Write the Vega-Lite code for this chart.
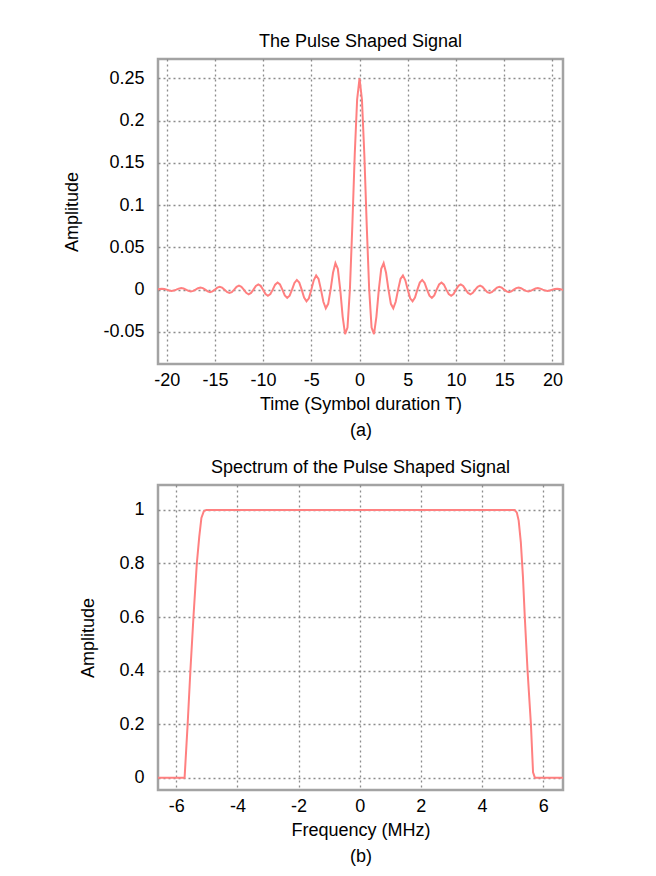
{
  "$schema": "https://vega.github.io/schema/vega-lite/v6.json",
  "background": "white",
  "padding": {"left": 62, "top": 31, "right": 5, "bottom": 5},
  "spacing": 16,
  "datasets": {
    "pulse": [
      {"t": -21, "amplitude": 0}, {"t": -20.75, "amplitude": 0.0008}, {"t": -20.5, "amplitude": 0.0012}, {"t": -20.25, "amplitude": 0.0009},
      {"t": -20, "amplitude": 0}, {"t": -19.75, "amplitude": -0.001}, {"t": -19.5, "amplitude": -0.0015}, {"t": -19.25, "amplitude": -0.0011},
      {"t": -19, "amplitude": 0}, {"t": -18.75, "amplitude": 0.0012}, {"t": -18.5, "amplitude": 0.0018}, {"t": -18.25, "amplitude": 0.0013},
      {"t": -18, "amplitude": 0}, {"t": -17.75, "amplitude": -0.0015}, {"t": -17.5, "amplitude": -0.0021}, {"t": -17.25, "amplitude": -0.0015},
      {"t": -17, "amplitude": 0}, {"t": -16.75, "amplitude": 0.0017}, {"t": -16.5, "amplitude": 0.0025}, {"t": -16.25, "amplitude": 0.0018},
      {"t": -16, "amplitude": 0}, {"t": -15.75, "amplitude": -0.002}, {"t": -15.5, "amplitude": -0.0029}, {"t": -15.25, "amplitude": -0.0021},
      {"t": -15, "amplitude": 0}, {"t": -14.75, "amplitude": 0.0024}, {"t": -14.5, "amplitude": 0.0034}, {"t": -14.25, "amplitude": 0.0024},
      {"t": -14, "amplitude": 0}, {"t": -13.75, "amplitude": -0.0028}, {"t": -13.5, "amplitude": -0.004}, {"t": -13.25, "amplitude": -0.0029},
      {"t": -13, "amplitude": 0}, {"t": -12.75, "amplitude": 0.0033}, {"t": -12.5, "amplitude": 0.0047}, {"t": -12.25, "amplitude": 0.0034},
      {"t": -12, "amplitude": 0}, {"t": -11.75, "amplitude": -0.0038}, {"t": -11.5, "amplitude": -0.0055}, {"t": -11.25, "amplitude": -0.0039},
      {"t": -11, "amplitude": 0}, {"t": -10.75, "amplitude": 0.0044}, {"t": -10.5, "amplitude": 0.0063}, {"t": -10.25, "amplitude": 0.0045},
      {"t": -10, "amplitude": 0}, {"t": -9.75, "amplitude": -0.0051}, {"t": -9.5, "amplitude": -0.0073}, {"t": -9.25, "amplitude": -0.0052},
      {"t": -9, "amplitude": 0}, {"t": -8.75, "amplitude": 0.0059}, {"t": -8.5, "amplitude": 0.0085}, {"t": -8.25, "amplitude": 0.0061},
      {"t": -8, "amplitude": 0}, {"t": -7.75, "amplitude": -0.0068}, {"t": -7.5, "amplitude": -0.0098}, {"t": -7.25, "amplitude": -0.0071},
      {"t": -7, "amplitude": 0}, {"t": -6.75, "amplitude": 0.0079}, {"t": -6.5, "amplitude": 0.0115}, {"t": -6.25, "amplitude": 0.0084},
      {"t": -6, "amplitude": 0}, {"t": -5.75, "amplitude": -0.0094}, {"t": -5.5, "amplitude": -0.0138}, {"t": -5.25, "amplitude": -0.0102},
      {"t": -5, "amplitude": 0}, {"t": -4.75, "amplitude": 0.0111}, {"t": -4.5, "amplitude": 0.0167}, {"t": -4.25, "amplitude": 0.0126},
      {"t": -4, "amplitude": 0}, {"t": -3.75, "amplitude": -0.0144}, {"t": -3.5, "amplitude": -0.022}, {"t": -3.25, "amplitude": -0.0168},
      {"t": -3, "amplitude": 0}, {"t": -2.75, "amplitude": 0.02}, {"t": -2.5, "amplitude": 0.0313}, {"t": -2.25, "amplitude": 0.0247},
      {"t": -2, "amplitude": 0}, {"t": -1.75, "amplitude": -0.0319}, {"t": -1.5, "amplitude": -0.0527}, {"t": -1.25, "amplitude": -0.0448},
      {"t": -1, "amplitude": 0}, {"t": -0.75, "amplitude": 0.0749}, {"t": -0.5, "amplitude": 0.159}, {"t": -0.25, "amplitude": 0.225},
      {"t": 0, "amplitude": 0.25},
      {"t": 0.25, "amplitude": 0.225}, {"t": 0.5, "amplitude": 0.159}, {"t": 0.75, "amplitude": 0.0749}, {"t": 1, "amplitude": 0},
      {"t": 1.25, "amplitude": -0.0448}, {"t": 1.5, "amplitude": -0.0527}, {"t": 1.75, "amplitude": -0.0319}, {"t": 2, "amplitude": 0},
      {"t": 2.25, "amplitude": 0.0247}, {"t": 2.5, "amplitude": 0.0313}, {"t": 2.75, "amplitude": 0.02}, {"t": 3, "amplitude": 0},
      {"t": 3.25, "amplitude": -0.0168}, {"t": 3.5, "amplitude": -0.022}, {"t": 3.75, "amplitude": -0.0144}, {"t": 4, "amplitude": 0},
      {"t": 4.25, "amplitude": 0.0126}, {"t": 4.5, "amplitude": 0.0167}, {"t": 4.75, "amplitude": 0.0111}, {"t": 5, "amplitude": 0},
      {"t": 5.25, "amplitude": -0.0102}, {"t": 5.5, "amplitude": -0.0138}, {"t": 5.75, "amplitude": -0.0094}, {"t": 6, "amplitude": 0},
      {"t": 6.25, "amplitude": 0.0084}, {"t": 6.5, "amplitude": 0.0115}, {"t": 6.75, "amplitude": 0.0079}, {"t": 7, "amplitude": 0},
      {"t": 7.25, "amplitude": -0.0071}, {"t": 7.5, "amplitude": -0.0098}, {"t": 7.75, "amplitude": -0.0068}, {"t": 8, "amplitude": 0},
      {"t": 8.25, "amplitude": 0.0061}, {"t": 8.5, "amplitude": 0.0085}, {"t": 8.75, "amplitude": 0.0059}, {"t": 9, "amplitude": 0},
      {"t": 9.25, "amplitude": -0.0052}, {"t": 9.5, "amplitude": -0.0073}, {"t": 9.75, "amplitude": -0.0051}, {"t": 10, "amplitude": 0},
      {"t": 10.25, "amplitude": 0.0045}, {"t": 10.5, "amplitude": 0.0063}, {"t": 10.75, "amplitude": 0.0044}, {"t": 11, "amplitude": 0},
      {"t": 11.25, "amplitude": -0.0039}, {"t": 11.5, "amplitude": -0.0055}, {"t": 11.75, "amplitude": -0.0038}, {"t": 12, "amplitude": 0},
      {"t": 12.25, "amplitude": 0.0034}, {"t": 12.5, "amplitude": 0.0047}, {"t": 12.75, "amplitude": 0.0033}, {"t": 13, "amplitude": 0},
      {"t": 13.25, "amplitude": -0.0029}, {"t": 13.5, "amplitude": -0.004}, {"t": 13.75, "amplitude": -0.0028}, {"t": 14, "amplitude": 0},
      {"t": 14.25, "amplitude": 0.0024}, {"t": 14.5, "amplitude": 0.0034}, {"t": 14.75, "amplitude": 0.0024}, {"t": 15, "amplitude": 0},
      {"t": 15.25, "amplitude": -0.0021}, {"t": 15.5, "amplitude": -0.0029}, {"t": 15.75, "amplitude": -0.002}, {"t": 16, "amplitude": 0},
      {"t": 16.25, "amplitude": 0.0018}, {"t": 16.5, "amplitude": 0.0025}, {"t": 16.75, "amplitude": 0.0017}, {"t": 17, "amplitude": 0},
      {"t": 17.25, "amplitude": -0.0015}, {"t": 17.5, "amplitude": -0.0021}, {"t": 17.75, "amplitude": -0.0015}, {"t": 18, "amplitude": 0},
      {"t": 18.25, "amplitude": 0.0013}, {"t": 18.5, "amplitude": 0.0018}, {"t": 18.75, "amplitude": 0.0012}, {"t": 19, "amplitude": 0},
      {"t": 19.25, "amplitude": -0.0011}, {"t": 19.5, "amplitude": -0.0015}, {"t": 19.75, "amplitude": -0.001}, {"t": 20, "amplitude": 0},
      {"t": 20.25, "amplitude": 0.0009}, {"t": 20.5, "amplitude": 0.0012}, {"t": 20.75, "amplitude": 0.0008}, {"t": 21, "amplitude": 0},
      {"t": 21.25, "amplitude": -0.0006}
    ],
    "spectrum": [
      {"f": -6.7, "amplitude": 0}, {"f": -5.73, "amplitude": 0}, {"f": -5.68, "amplitude": 0.1}, {"f": -5.63, "amplitude": 0.2},
      {"f": -5.54, "amplitude": 0.4}, {"f": -5.44, "amplitude": 0.6}, {"f": -5.33, "amplitude": 0.8}, {"f": -5.25, "amplitude": 0.9},
      {"f": -5.18, "amplitude": 0.97}, {"f": -5.1, "amplitude": 0.995}, {"f": -5.02, "amplitude": 1}, {"f": -4.5, "amplitude": 1},
      {"f": 0, "amplitude": 1}, {"f": 4.5, "amplitude": 1}, {"f": 5.07, "amplitude": 1}, {"f": 5.14, "amplitude": 0.99},
      {"f": 5.2, "amplitude": 0.96}, {"f": 5.27, "amplitude": 0.88}, {"f": 5.34, "amplitude": 0.75}, {"f": 5.4, "amplitude": 0.6},
      {"f": 5.49, "amplitude": 0.4}, {"f": 5.6, "amplitude": 0.2}, {"f": 5.67, "amplitude": 0.02}, {"f": 5.73, "amplitude": 0},
      {"f": 6.7, "amplitude": 0}
    ]
  },
  "vconcat": [
    {
      "width": 405,
      "height": 305,
      "title": "The Pulse Shaped Signal",
      "data": {"name": "pulse"},
      "mark": {"type": "line", "color": "#ff8080", "strokeWidth": 2, "clip": true},
      "encoding": {
        "x": {
          "field": "t", "type": "quantitative",
          "scale": {"domain": [-20.9, 21.1], "nice": false, "zero": false},
          "axis": {"values": [-20, -15, -10, -5, 0, 5, 10, 15, 20], "format": "~g", "labelExpr": "replace(datum.label, '−', '-')", "title": ["Time (Symbol duration T)", "(a)"]}
        },
        "y": {
          "field": "amplitude", "type": "quantitative",
          "scale": {"domain": [-0.088, 0.273], "nice": false, "zero": false},
          "axis": {"values": [-0.05, 0, 0.05, 0.1, 0.15, 0.2, 0.25], "format": "~g", "labelExpr": "replace(datum.label, '−', '-')", "title": "Amplitude"}
        }
      }
    },
    {
      "width": 405,
      "height": 305,
      "title": "Spectrum of the Pulse Shaped Signal",
      "data": {"name": "spectrum"},
      "mark": {"type": "line", "color": "#ff8080", "strokeWidth": 2, "clip": true},
      "encoding": {
        "x": {
          "field": "f", "type": "quantitative",
          "scale": {"domain": [-6.6, 6.65], "nice": false, "zero": false},
          "axis": {"values": [-6, -4, -2, 0, 2, 4, 6], "format": "~g", "labelExpr": "replace(datum.label, '−', '-')", "title": ["Frequency (MHz)", "(b)"]}
        },
        "y": {
          "field": "amplitude", "type": "quantitative",
          "scale": {"domain": [-0.046, 1.093], "nice": false, "zero": false},
          "axis": {"values": [0, 0.2, 0.4, 0.6, 0.8, 1], "format": "~g", "labelExpr": "replace(datum.label, '−', '-')", "title": "Amplitude"}
        }
      }
    }
  ],
  "config": {
    "font": "Liberation Sans",
    "view": {"stroke": "#a3a3a3", "strokeWidth": 2.5},
    "axis": {
      "labelFont": "Liberation Sans", "titleFont": "Liberation Sans",
      "labelFontSize": 18, "titleFontSize": 18, "titleFontWeight": "normal",
      "labelColor": "black", "titleColor": "black",
      "domain": false, "ticks": false,
      "grid": true, "gridColor": "#808080", "gridDash": [2, 3], "gridWidth": 1.3, "gridOpacity": 0.9
    },
    "axisX": {"titleLineHeight": 26, "titlePadding": 6, "labelPadding": 7},
    "axisY": {"titlePadding": 21, "labelPadding": 14},
    "title": {"font": "Liberation Sans", "fontSize": 18, "fontWeight": "normal", "color": "black", "offset": 8}
  }
}
